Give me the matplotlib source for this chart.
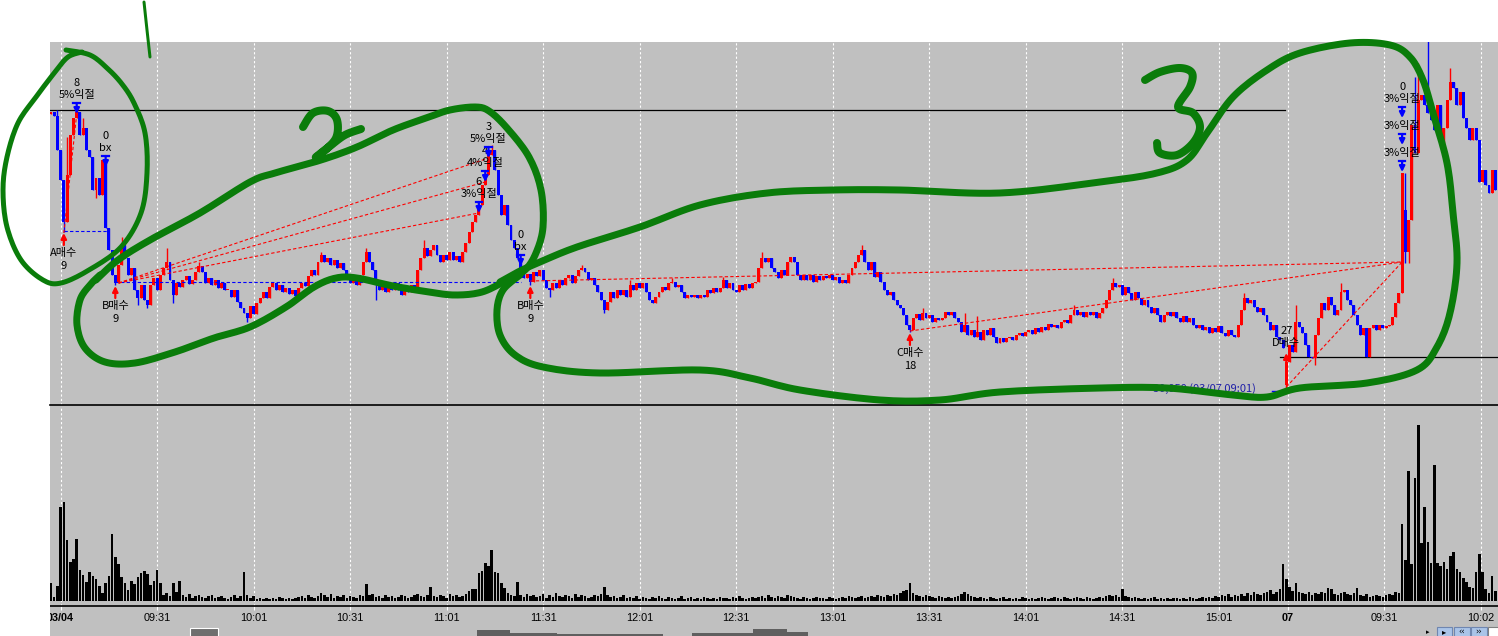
import numpy as np
import matplotlib
matplotlib.use("Agg")
import matplotlib.pyplot as plt
from matplotlib.patches import Rectangle
from matplotlib.transforms import blended_transform_factory

plt.rcParams['font.family'] = ['Noto Sans CJK KR', 'DejaVu Sans']

# 1-minute bars, 03/04 09:00 .. 03/07 10:07; price in chart points (no price scale on screen)
close = [
    293, 289, 255, 225, 183, 230, 270, 287, 293, 270,
    277, 255, 248, 215, 227, 210, 245, 177, 155, 130,
    122, 140, 160, 147, 130, 137, 115, 107, 120, 105,
    100, 120, 127, 115, 130, 137, 143, 125, 110, 122,
    118, 125, 129, 121, 125, 133, 139, 133, 122, 127,
    120, 125, 117, 122, 115, 115, 108, 115, 103, 97,
    92, 87, 99, 91, 102, 107, 113, 107, 118, 122,
    115, 120, 113, 117, 111, 115, 109, 117, 122, 119,
    129, 135, 130, 143, 150, 143, 147, 140, 145, 137,
    142, 135, 130, 122, 127, 120, 130, 143, 153, 143,
    135, 125, 115, 120, 113, 119, 115, 122, 115, 110,
    118, 113, 120, 117, 135, 147, 157, 149, 155, 160,
    150, 143, 150, 145, 153, 145, 149, 143, 153, 162,
    173, 183, 190, 200, 220, 230, 250, 255, 235, 210,
    190, 200, 180, 165, 157, 147, 137, 127, 131, 123,
    133, 129, 135, 125, 117, 115, 122, 117, 125, 120,
    127, 130, 122, 129, 135, 137, 133, 125, 127, 120,
    113, 105, 95, 103, 113, 107, 115, 110, 115, 108,
    120, 115, 122, 117, 122, 113, 105, 102, 108, 113,
    118, 115, 122, 123, 118, 120, 113, 107, 110, 108,
    110, 107, 110, 108, 115, 112, 117, 113, 117, 125,
    117, 122, 115, 113, 120, 115, 121, 117, 122, 123,
    137, 147, 143, 147, 137, 133, 127, 135, 130, 143,
    148, 143, 130, 125, 130, 125, 130, 123, 129, 125,
    129, 127, 130, 125, 128, 122, 125, 122, 130, 137,
    143, 150, 155, 143, 135, 143, 128, 133, 123, 115,
    110, 113, 105, 100, 97, 90, 80, 75, 87, 91,
    85, 92, 87, 90, 83, 87, 85, 87, 93, 90,
    93, 87, 83, 73, 80, 70, 75, 68, 73, 65,
    75, 70, 77, 68, 62, 67, 63, 67, 68, 65,
    70, 72, 69, 73, 75, 71, 77, 73, 78, 75,
    81, 78, 80, 77, 83, 85, 82, 90, 95, 90,
    93, 88, 93, 90, 93, 87, 92, 97, 105, 115,
    122, 118, 120, 110, 118, 112, 105, 113, 107, 100,
    105, 98, 92, 97, 90, 83, 90, 93, 89, 93,
    87, 83, 89, 83, 87, 80, 77, 80, 75, 78,
    72, 77, 73, 79, 72, 69, 75, 70, 68, 80,
    95, 107, 102, 105, 98, 93, 97, 90, 83, 75,
    80, 68, 65, 57, 43, 60, 53, 83, 78, 72,
    60, 48, 47, 70, 87, 102, 95, 108, 100, 90,
    95, 113, 115, 105, 100, 90, 80, 70, 77, 48,
    77, 80, 75, 80, 77, 79, 80, 88, 102, 112,
    232, 153, 185, 280, 252, 305, 310, 300, 292, 285,
    275, 300, 260, 277, 305, 323, 317, 300, 313, 287,
    277, 265, 277, 265, 223, 235, 220, 212, 235, 215,
]
gap_open = {0: 291, 384: 20, 421: 195}
high_wick = {2: 295, 5: 268, 8: 297, 10: 287, 22: 168, 36: 157, 46: 143, 84: 153,
             98: 157, 116: 165, 137: 260, 165: 140, 180: 125, 193: 127, 209: 128,
             221: 153, 252: 160, 271: 97, 284: 92, 288: 89, 318: 100, 330: 127,
             371: 112, 387: 100, 401: 122, 421: 232, 424: 328, 425: 342, 428: 366,
             435: 337}
low_wick = {4: 173, 14: 207, 20: 120, 27: 100, 30: 97, 38: 102, 61: 83, 101: 105,
            149: 120, 155: 108, 172: 92, 267: 73, 384: 17, 393: 40, 421: 142, 422: 142}

volume = [
    18, 4, 15, 94, 99, 61, 39, 42, 62, 31,
    26, 19, 29, 25, 22, 15, 8, 18, 25, 67,
    44, 37, 24, 18, 11, 20, 17, 24, 28, 30,
    27, 16, 20, 31, 18, 6, 8, 5, 18, 9,
    20, 6, 4, 7, 3, 5, 6, 4, 3, 5,
    6, 3, 4, 5, 3, 2, 4, 6, 3, 5,
    29, 6, 3, 5, 2, 3, 2, 3, 2, 3,
    2, 4, 3, 2, 3, 2, 3, 4, 5, 3,
    6, 4, 3, 5, 8, 6, 4, 7, 3, 5,
    4, 6, 3, 5, 4, 3, 6, 5, 17, 6,
    7, 4, 5, 3, 6, 4, 5, 3, 4, 6,
    5, 3, 4, 6, 7, 5, 4, 6, 14, 5,
    4, 6, 5, 3, 7, 5, 6, 4, 5, 7,
    10, 12, 12, 28, 30, 38, 35, 51, 29, 28,
    18, 13, 8, 6, 5, 19, 6, 4, 7, 5,
    6, 4, 5, 7, 3, 6, 4, 8, 5, 4,
    6, 5, 3, 7, 4, 6, 5, 3, 4, 6,
    5, 7, 14, 6, 4, 5, 3, 4, 6, 3,
    4, 3, 5, 2, 4, 3, 2, 4, 3, 5,
    3, 2, 4, 3, 2, 3, 5, 2, 3, 4,
    2, 3, 2, 4, 3, 2, 3, 2, 4, 3,
    3, 2, 4, 3, 5, 3, 2, 3, 4, 3,
    4, 5, 3, 6, 4, 3, 5, 4, 3, 6,
    5, 4, 3, 2, 4, 3, 2, 3, 4, 3,
    3, 2, 4, 3, 2, 3, 4, 3, 5, 4,
    3, 4, 5, 3, 4, 5, 4, 6, 5, 4,
    6, 5, 7, 6, 8, 10, 11, 18, 8, 6,
    5, 4, 6, 5, 4, 3, 5, 4, 3, 4,
    3, 4, 5, 7, 9, 7, 5, 4, 3, 4,
    3, 2, 4, 3, 2, 3, 4, 2, 3, 2,
    3, 2, 4, 3, 2, 3, 2, 3, 4, 3,
    2, 3, 4, 3, 2, 4, 3, 2, 3, 4,
    3, 2, 4, 3, 2, 3, 4, 3, 5, 6,
    5, 6, 4, 12, 5, 4, 3, 4, 3, 2,
    3, 2, 3, 4, 2, 3, 2, 3, 2, 3,
    3, 2, 3, 2, 4, 3, 2, 3, 4, 3,
    4, 3, 5, 4, 6, 5, 7, 4, 6, 5,
    7, 5, 8, 6, 9, 7, 6, 8, 9, 11,
    7, 9, 12, 37, 22, 14, 10, 18, 9, 8,
    7, 9, 6, 8, 7, 9, 8, 13, 12, 7,
    6, 8, 9, 7, 6, 8, 13, 6, 5, 7,
    4, 5, 6, 5, 4, 6, 7, 6, 9, 8,
    77, 41, 130, 37, 123, 176, 58, 94, 59, 38,
    136, 38, 35, 39, 32, 45, 49, 32, 29, 23,
    19, 14, 13, 29, 47, 29, 12, 8, 25, 10,
]

tick_pos = [3, 33, 63, 93, 123, 153, 183, 213, 243, 273, 303, 333, 363, 384.5, 414.5, 444.5]
tick_lab = ['03/04', '09:31', '10:01', '10:31', '11:01', '11:31', '12:01', '12:31',
            '13:01', '13:31', '14:01', '14:31', '15:01', '07', '09:31', '10:02']

buy_bar = [4, 20, 149, 267]
buy_price = [172, 119, 119, 72]
buy_name = ['A매수', 'B매수', 'B매수', 'C매수']
buy_qty = ['9', '9', '9', '18']
d_bar, d_price, d_name, d_qty = 384, 52, 'D매수', '27'

sell_bar = [8, 17, 133, 135, 136, 146, 420, 420, 420]
sell_price = [291, 238, 192, 223, 247, 139, 287, 260, 233]
sell_qty = ['8', '0', '6', '4', '3', '0', '0', '', '']
sell_name = ['5%익절', 'bx', '3%익절', '4%익절', '5%익절', 'bx', '3%익절', '3%익절', '3%익절']

trade_from = [(4, 172), (21, 122), (21, 122), (21, 122), (149, 124), (267, 74), (384, 18)]
trade_to = [(8, 291), (133, 192), (135, 223), (136, 247), (420, 143), (420, 143), (420, 143)]
stop_lines = [(4, 18, 174), (20, 146, 123)]          # blue dashed
level_lines = [(-0.3, 383.5, 295), (382, 449.8, 48)]  # black

W, H = 1498, 636
GRAY = '#c0c0c0'
GREEN = '#0a7c0a'

fig = plt.figure(figsize=(W / 100, H / 100), dpi=100, facecolor='white')
fig.add_artist(Rectangle((50 / W, 0), 1448 / W, 1 - 42 / H, transform=fig.transFigure,
                         facecolor=GRAY, edgecolor='none', zorder=-5))

ax = fig.add_axes([50 / W, 1 - 405 / H, 1448 / W, 363 / H], facecolor=GRAY)
axv = fig.add_axes([50 / W, 1 - 606 / H, 1448 / W, 199 / H], facecolor=GRAY)
for a in (ax, axv):
    a.set_xlim(-0.3, 449.8)
    for s in a.spines.values():
        s.set_visible(False)
    a.spines['bottom'].set_visible(True)
    a.spines['bottom'].set_color('black')
    a.spines['bottom'].set_linewidth(1.2)
    a.set_yticks([])
    for t in tick_pos:
        a.axvline(t, color='white', lw=0.8, ls=(0, (2, 2)), zorder=1)
ax.set_ylim(0, 363)
axv.set_ylim(-5, 194)
ax.set_xticks([])
axv.set_xticks(tick_pos)
axv.tick_params(axis='x', length=3, color='white', labelbottom=False)

# candles
c = np.array(close, float)
n = len(c)
x = np.arange(n)
o = np.empty(n)
o[1:] = c[:-1]
o[0] = c[0]
for k, v in gap_open.items():
    o[k] = v
hi = np.maximum(o, c)
lo = np.minimum(o, c)
for k, v in high_wick.items():
    hi[k] = max(hi[k], v)
for k, v in low_wick.items():
    lo[k] = min(lo[k], v)
col = np.where(c >= o, '#ff0000', '#0000ff')
ax.vlines(x, lo, hi, colors=col, lw=1.0, zorder=3)
ax.bar(x, np.maximum(np.abs(c - o), 1.5), bottom=np.minimum(o, c), width=0.92,
       color=col, linewidth=0, zorder=3)

axv.bar(x, volume, width=0.8, color='black', linewidth=0, zorder=3)

# level / trade lines
for x0, x1, p in level_lines:
    ax.plot([x0, x1], [p, p], color='black', lw=0.9, zorder=2)
for x0, x1, p in stop_lines:
    ax.plot([x0, x1], [p, p], color='blue', lw=0.8, ls=(0, (3, 2)), zorder=4)
for (x0, p0), (x1, p1) in zip(trade_from, trade_to):
    ax.plot([x0, x1], [p0, p1], color='red', lw=0.8, ls=(0, (3, 2)), zorder=4)

lab_kw = dict(ha='center', va='center', fontsize=8, color='black', zorder=6)


def buy_arrow(i, p):
    ax.annotate('', xy=(i, p), xytext=(i, p - 12),
                arrowprops=dict(arrowstyle='-|>', color='red', lw=1.6,
                                mutation_scale=8, shrinkA=0, shrinkB=0), zorder=6)


def sell_arrow(i, p):
    ax.annotate('', xy=(i, p), xytext=(i, p + 11),
                arrowprops=dict(arrowstyle='-|>', color='blue', lw=1.6,
                                mutation_scale=8, shrinkA=0, shrinkB=0), zorder=6)
    ax.plot([i - 1.0, i + 1.0], [p + 11, p + 11], color='blue', lw=1.6, zorder=6)


for i, p, name, q in zip(buy_bar, buy_price, buy_name, buy_qty):
    buy_arrow(i, p)
    ax.text(i, p - 20, name, **lab_kw)
    ax.text(i, p - 33, q, **lab_kw)
buy_arrow(d_bar, d_price)
ax.text(d_bar, d_price + 10, d_name, **lab_kw)
ax.text(d_bar, d_price + 22, d_qty, **lab_kw)

for i, p, q, name in zip(sell_bar, sell_price, sell_qty, sell_name):
    sell_arrow(i, p)
    ax.text(i, p + 19, name, **lab_kw)
    if q:
        ax.text(i, p + 31, q, **lab_kw)

ax.text(358.7, 16, '30,050 (03/07 09:01)', ha='center', va='center', fontsize=8,
        color='#2020a8', zorder=6)
ax.plot([379.5, 383], [14, 14], color='blue', lw=1, zorder=6)

# overlay in screen pixels: axis labels, widgets, hand-drawn marks
ov = fig.add_axes([0, 0, 1, 1], facecolor='none', zorder=5)
ov.set_xlim(0, W)
ov.set_ylim(H, 0)
ov.axis('off')

tr = blended_transform_factory(axv.transData, ov.transData)
for t, lab in zip(tick_pos, tick_lab):
    bold = lab in ('03/04', '07')
    ov.text(t, 618, lab, transform=tr, ha='center', va='center', fontsize=7.8,
            family='Liberation Sans', fontweight='bold' if bold else 'normal', zorder=2)
ov.add_patch(Rectangle((0, 600), 50, 36, facecolor='white', edgecolor='none', zorder=3))

# bottom scroll widgets
ov.add_patch(Rectangle((190, 628), 28, 9, facecolor='#6e6e6e', edgecolor='white', lw=0.8, zorder=2))
for x0, x1, top in [(477, 510, 630), (510, 557, 633), (557, 663, 634), (692, 753, 633),
                    (753, 787, 629), (787, 808, 632)]:
    ov.add_patch(Rectangle((x0, top), x1 - x0, H - top, facecolor='#5f5f5f',
                           edgecolor='none', zorder=2))
for x0, w, g in [(1437, 15, '▸'), (1454, 16, '‹‹'), (1471, 16, '››')]:
    ov.add_patch(Rectangle((x0, 627), w, 10, facecolor='#aac4e8', edgecolor='#6f86b0',
                           lw=0.8, zorder=2))
    ov.text(x0 + w / 2, 632, g, ha='center', va='center', fontsize=6,
            family='DejaVu Sans', zorder=3)
ov.add_patch(Rectangle((1488, 627), 11, 10, facecolor='white', edgecolor='#808080',
                       lw=0.8, zorder=2))
ov.text(1428, 632, '▸', ha='center', va='center', fontsize=5, family='DejaVu Sans', zorder=3)


def smooth(points, steps=10):
    p = np.asarray(points, float)
    p = np.vstack([p[0], p, p[-1]])
    out = []
    for k in range(1, len(p) - 2):
        p0, p1, p2, p3 = p[k - 1], p[k], p[k + 1], p[k + 2]
        for t in np.linspace(0, 1, steps, endpoint=False):
            out.append(0.5 * (2 * p1 + (p2 - p0) * t
                              + (2 * p0 - 5 * p1 + 4 * p2 - p3) * t ** 2
                              + (3 * p1 - p0 - 3 * p2 + p3) * t ** 3))
    out.append(p[-2])
    return np.array(out)


circle1 = [(66, 50), (90, 55), (107, 68), (122, 84), (134, 103), (145, 133), (147, 173),
           (141, 213), (121, 247), (89, 270), (61, 283), (43, 280), (21, 260), (7, 227),
           (3, 190), (7, 157), (18, 123), (36, 97), (55, 72), (68, 57), (82, 52)]
one = [(144, 2), (147, 30), (150, 57)]
loop2 = [(96, 280), (118, 260), (150, 240), (200, 213), (250, 182), (275, 173), (321, 160),
         (357, 147), (393, 130), (429, 117), (450, 110), (475, 107), (489, 111), (507, 128),
         (529, 157), (541, 190), (543, 227), (536, 253), (525, 270), (507, 280), (482, 292),
         (455, 295), (429, 292), (393, 286), (357, 278), (336, 278), (314, 287), (286, 307),
         (250, 327), (214, 338), (175, 352), (135, 363), (105, 362), (85, 348), (77, 325),
         (80, 300), (90, 285), (100, 275)]
two = [(303, 127), (313, 113), (328, 111), (337, 120), (336, 138), (322, 153), (316, 157),
       (330, 146), (345, 135), (361, 129)]
loop3 = [(500, 282), (520, 271), (540, 262), (577, 247), (640, 227), (700, 205), (767, 193),
         (833, 190), (900, 190), (1000, 193), (1100, 182), (1157, 173), (1187, 160),
         (1207, 133), (1233, 97), (1267, 70), (1300, 53), (1350, 43), (1390, 45), (1410, 57),
         (1423, 80), (1433, 113), (1447, 163), (1453, 213), (1457, 263), (1450, 313),
         (1437, 347), (1417, 370), (1367, 383), (1300, 388), (1267, 397), (1233, 395),
         (1167, 388), (1100, 388), (1000, 392), (940, 400), (880, 400), (800, 390),
         (750, 378), (700, 370), (600, 373), (543, 367), (515, 355), (500, 335), (497, 310),
         (503, 290), (520, 275)]
three = [(1145, 80), (1160, 72), (1180, 68), (1192, 73), (1190, 87), (1178, 107), (1193, 113),
         (1200, 127), (1193, 143), (1177, 155), (1160, 153), (1157, 143)]

for pts, px in [(circle1, 5), (one, 3), (loop2, 7), (two, 8), (loop3, 7), (three, 8)]:
    s = smooth(pts)
    ov.plot(s[:, 0], s[:, 1], color=GREEN, lw=px * 0.72, solid_capstyle='round',
            solid_joinstyle='round', zorder=6)

fig.savefig('out.png', dpi=100)
